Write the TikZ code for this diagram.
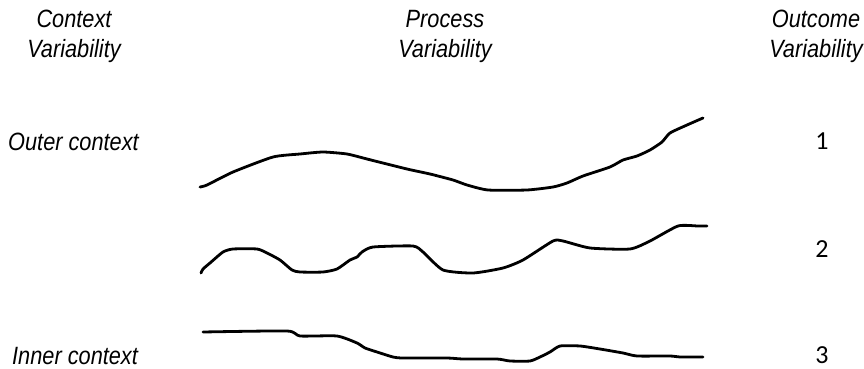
\documentclass[tikz,border=0pt]{standalone}
\usepackage{fontspec}
\setmainfont{Liberation Sans}
\newfontfamily\narrowsans[FakeStretch=0.87]{Liberation Sans}
\newfontfamily\digitfont{Carlito}

\begin{document}
\begin{tikzpicture}[x=1pt, y=-1pt,
    heading/.style={font=\narrowsans\itshape\fontsize{25}{30}\selectfont, inner sep=0, anchor=base},
    level/.style={font=\narrowsans\itshape\fontsize{25}{30}\selectfont, inner sep=0, anchor=base west},
    rank/.style={font=\digitfont\fontsize{26}{30}\selectfont, inner sep=0, anchor=base},
    path/.style={line width=2.8pt, line cap=round, line join=round, smooth, tension=0.35}]

    \useasboundingbox (0, 0) rectangle (864, 369);

    % Headings
    \node[heading] (ctxA) at (74, 28) {Context};
    \node[heading] (ctxB) at (74, 58) {Variability};
    \node[heading] (procA) at (445, 28) {Process};
    \node[heading] (procB) at (445, 58) {Variability};
    \node[heading] (outA) at (816, 28) {Outcome};
    \node[heading] (outB) at (816, 58) {Variability};

    % Context levels
    \node[level] (outer) at (8, 150) {Outer context};
    \node[level] (inner) at (12, 364) {Inner context};

    % Outcomes
    \node[rank] (one) at (822, 149) {1};
    \node[rank] (two) at (822, 257) {2};
    \node[rank] (three) at (822, 363) {3};

    % Process paths
    \draw[path] plot coordinates {(200,187) (207,185) (233,172) (273,157) (300,154)
        (323,152) (347,154) (367,159) (407,169) (430,174) (453,180) (467,185)
        (488,190) (527,190) (553,187) (567,183) (583,176) (610,167) (623,160)
        (637,156) (650,150) (662,142) (670,133) (687,125) (703,118)};
    \draw[path] plot coordinates {(201,273) (203,269) (210,263) (223,252) (233,249)
        (257,249) (267,253) (280,260) (292,270) (300,272) (323,272) (337,269)
        (350,260) (357,257) (362,252) (373,247) (413,246) (423,252) (443,270)
        (473,273) (503,268) (523,260) (553,241) (563,241) (590,248) (630,249)
        (650,241) (678,226) (698,226) (707,226)};
    \draw[path] plot coordinates {(203,332) (287,331) (300,336) (337,336) (357,343)
        (365,348) (377,352) (393,357) (403,358) (447,358) (463,359) (497,359)
        (510,361) (530,361) (540,357) (550,352) (560,346) (580,346) (600,349)
        (623,353) (637,356) (670,356) (680,357) (703,357)};

\end{tikzpicture}
\end{document}
